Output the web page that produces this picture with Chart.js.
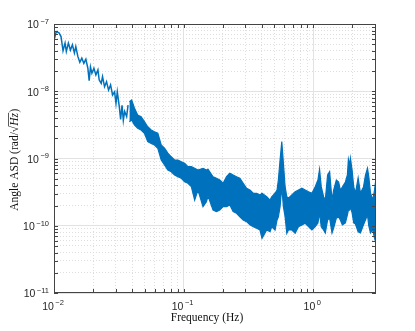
<!DOCTYPE html>
<html>
<head>
<meta charset="utf-8">
<script src="https://cdn.jsdelivr.net/npm/chart.js@4.4.0/dist/chart.umd.min.js"></script>
<style>
html, body { margin: 0; padding: 0; background: #fff; }
canvas { display: block; }
</style>
</head>
<body>
<canvas id="asd" width="415" height="331"></canvas>
<script>
// low-frequency part: the trace is still a single line here
const lowFreq = [0.0100, 0.01018, 0.01042, 0.01093, 0.01133, 0.01174, 0.01217, 0.01245, 0.01291, 0.01338,
                 0.01387, 0.01437, 0.01473, 0.01527, 0.01582, 0.01639, 0.01699, 0.01761, 0.01825, 0.01868,
                 0.01911, 0.01960, 0.02032, 0.02105, 0.02182, 0.02233, 0.02314, 0.02368, 0.02454, 0.02543,
                 0.02636, 0.02732, 0.02831, 0.02934, 0.03008, 0.03078, 0.03190, 0.03266, 0.03348, 0.03427,
                 0.03508, 0.03635, 0.03727];
const lowAsd  = [8.1e-8, 6.5e-8, 7.7e-8, 7.4e-8, 6.5e-8, 4.0e-8, 5.2e-8, 3.9e-8, 5.2e-8, 4.1e-8,
                 4.9e-8, 3.7e-8, 4.6e-8, 3.3e-8, 2.7e-8, 3.1e-8, 2.6e-8, 3.0e-8, 2.2e-8, 1.44e-8,
                 2.3e-8, 1.85e-8, 2.2e-8, 1.75e-8, 2.07e-8, 1.47e-8, 1.31e-8, 1.65e-8, 1.17e-8, 1.39e-8,
                 1.04e-8, 1.24e-8, 8.8e-9, 9.8e-9, 6.6e-9, 9.8e-9, 5.9e-9, 3.8e-9, 6.2e-9, 3.7e-9,
                 5.0e-9, 4.2e-9, 6.2e-9];

// above ~0.037 Hz the trace is a dense noise band: upper and lower envelope
const bandFreq = [0.03815, 0.03974, 0.04172, 0.04423, 0.04699, 0.04985, 0.05288, 0.05618, 0.05959, 0.06324,
                  0.06717, 0.07124, 0.07556, 0.08028, 0.08516, 0.09032, 0.09598, 0.1018, 0.1080, 0.1147,
                  0.1217, 0.1291, 0.1411, 0.1500, 0.1543, 0.1687, 0.1793, 0.1901, 0.2017, 0.2143,
                  0.2273, 0.2411, 0.2561, 0.2717, 0.2882, 0.3062, 0.3247, 0.3444, 0.3662, 0.3883,
                  0.4025, 0.4377, 0.4642, 0.4784, 0.5075, 0.5259, 0.5383, 0.5549, 0.5720, 0.5886,
                  0.6067, 0.6254, 0.6435, 0.6837, 0.7254, 0.7691, 0.8173, 0.8670, 0.9196, 0.9770,
                  1.036, 1.087, 1.119, 1.153, 1.202, 1.239, 1.291, 1.338, 1.396, 1.437,
                  1.508, 1.571, 1.619, 1.678, 1.771, 1.835, 1.868, 1.911, 1.936, 1.995,
                  2.053, 2.117, 2.221, 2.314, 2.441, 2.530, 2.622, 2.684, 2.766, 2.882,
                  2.971, 3.024, 3.05];
const bandHigh = [6.99e-9, 7.41e-9, 5.64e-9, 4.43e-9, 4.18e-9, 3.53e-9, 2.97e-9, 2.65e-9, 2.50e-9, 2.37e-9,
                  1.59e-9, 1.42e-9, 1.20e-9, 1.06e-9, 9.50e-10, 9.50e-10, 8.96e-10, 8.48e-10, 7.55e-10, 7.55e-10,
                  7.15e-10, 6.75e-10, 7.15e-10, 6.75e-10, 6.91e-10, 5.36e-10, 5.08e-10, 4.79e-10, 4.28e-10, 5.36e-10,
                  6.02e-10, 5.68e-10, 5.36e-10, 5.08e-10, 4.28e-10, 3.61e-10, 3.40e-10, 3.04e-10, 3.04e-10, 2.87e-10,
                  3.04e-10, 2.70e-10, 2.41e-10, 2.70e-10, 3.04e-10, 3.40e-10, 4.79e-10, 9.50e-10, 1.78e-9, 8.48e-10,
                  3.81e-10, 2.70e-10, 2.56e-10, 2.87e-10, 3.21e-10, 3.40e-10, 3.61e-10, 3.40e-10, 3.21e-10, 3.04e-10,
                  3.81e-10, 4.79e-10, 6.91e-10, 3.81e-10, 2.70e-10, 2.41e-10, 5.68e-10, 6.36e-10, 2.41e-10, 3.40e-10,
                  4.79e-10, 4.47e-10, 3.40e-10, 3.77e-10, 4.47e-10, 5.68e-10, 9.73e-10, 8.00e-10, 1.007e-9, 6.75e-10,
                  3.77e-10, 3.07e-10, 5.13e-10, 3.07e-10, 3.77e-10, 5.68e-10, 7.15e-10, 5.36e-10, 3.07e-10, 2.41e-10,
                  3.40e-10, 4.47e-10, 2.41e-10];
const bandLow  = [3.53e-9, 3.74e-9, 3.15e-9, 2.81e-9, 2.65e-9, 2.37e-9, 1.78e-9, 1.68e-9, 1.59e-9, 1.42e-9,
                  9.50e-10, 8.00e-10, 6.75e-10, 6.36e-10, 5.68e-10, 5.36e-10, 5.08e-10, 4.52e-10, 4.28e-10, 3.81e-10,
                  2.41e-10, 3.40e-10, 1.92e-10, 2.28e-10, 2.77e-10, 1.71e-10, 1.62e-10, 1.71e-10, 1.92e-10, 1.92e-10,
                  2.04e-10, 1.62e-10, 1.53e-10, 1.36e-10, 1.22e-10, 1.15e-10, 1.03e-10, 9.68e-11, 9.17e-11, 8.65e-11,
                  6.51e-11, 8.65e-11, 8.15e-11, 9.68e-11, 8.65e-11, 1.22e-10, 1.36e-10, 1.92e-10, 3.81e-10, 1.92e-10,
                  1.36e-10, 7.72e-11, 8.65e-11, 8.65e-11, 7.72e-11, 9.68e-11, 1.03e-10, 1.09e-10, 9.68e-11, 8.65e-11,
                  9.68e-11, 1.10e-10, 1.55e-10, 9.68e-11, 8.65e-11, 7.80e-11, 1.22e-10, 1.30e-10, 7.80e-11, 9.26e-11,
                  1.30e-10, 1.35e-10, 1.22e-10, 1.03e-10, 1.10e-10, 1.45e-10, 1.71e-10, 1.71e-10, 1.92e-10, 1.55e-10,
                  1.10e-10, 1.06e-10, 8.15e-11, 7.80e-11, 1.03e-10, 1.22e-10, 1.45e-10, 9.92e-11, 7.80e-11, 8.65e-11,
                  6.57e-11, 5.79e-11, 5.93e-11];

// decade labels (10^n)
const xTickExp = [-2, -1, 0];
const yTickExp = [-11, -10, -9, -8, -7];

const blue = "#0072BD";

function pts(xs, ys) {
    return xs.map((x, i) => ({ x: x, y: ys[i] }));
}

function isDecade(tick) {
    if (!tick) return false;
    let l = Math.log10(tick.value);
    return Math.abs(l - Math.round(l)) < 1e-6;
}

// 1..9 x 10^n ticks, chart.js adds 1.5 ticks on its own otherwise
function logTicks(min, max) {
    let out = [];
    for (let e = Math.floor(Math.log10(min)); e <= Math.ceil(Math.log10(max)); e++) {
        for (let m = 1; m <= 9; m++) {
            let v = m * Math.pow(10, e);
            if (v >= min * 0.999999 && v <= max * 1.000001) out.push({ value: v });
        }
    }
    return out;
}

function pow10(ctx, e, x, y, align) {
    // "10" with raised exponent, y = vertical middle of the "10"
    ctx.font = "10.5px 'Liberation Sans', Arial, sans-serif";
    let wb = ctx.measureText("10").width;
    ctx.font = "7.5px 'Liberation Sans', Arial, sans-serif";
    let we = ctx.measureText(String(e).replace("-", "\u2212")).width;
    let w = wb + 1.5 + we;
    let left = align === "right" ? x - w : x - w / 2;
    ctx.textAlign = "left";
    ctx.textBaseline = "alphabetic";
    ctx.font = "10.5px 'Liberation Sans', Arial, sans-serif";
    ctx.fillText("10", left, y + 3.8);
    ctx.font = "7.5px 'Liberation Sans', Arial, sans-serif";
    ctx.fillText(String(e).replace("-", "\u2212"), left + wb + 1.5, y - 0.6);
}

const axisDeco = {
    id: "axisDeco",
    afterDraw(chart) {
        const ctx = chart.ctx;
        const a = chart.chartArea;
        const xs = chart.scales.x;
        const ys = chart.scales.y;
        ctx.save();
        ctx.strokeStyle = "#444";
        ctx.lineWidth = 1;
        ctx.strokeRect(a.left + 0.5, a.top + 0.5, a.right - a.left - 1, a.bottom - a.top - 1);

        // inward ticks on all four sides
        ctx.beginPath();
        for (let t of xs.ticks) {
            let px = Math.round(xs.getPixelForValue(t.value)) + 0.5;
            ctx.moveTo(px, a.bottom); ctx.lineTo(px, a.bottom - 4);
            ctx.moveTo(px, a.top); ctx.lineTo(px, a.top + 4);
        }
        for (let t of ys.ticks) {
            let py = Math.round(ys.getPixelForValue(t.value)) + 0.5;
            ctx.moveTo(a.left, py); ctx.lineTo(a.left + 4, py);
            ctx.moveTo(a.right, py); ctx.lineTo(a.right - 4, py);
        }
        ctx.stroke();

        ctx.fillStyle = "#262626";
        for (let e of xTickExp) {
            pow10(ctx, e, xs.getPixelForValue(Math.pow(10, e)) - 1, 306, "center");
        }
        for (let e of yTickExp) {
            pow10(ctx, e, 49, ys.getPixelForValue(Math.pow(10, e)) + 0.5, "right");
        }

        // axis titles
        ctx.fillStyle = "#111";
        ctx.textBaseline = "middle";
        ctx.textAlign = "center";
        ctx.font = "11.5px 'Liberation Serif', 'Times New Roman', serif";
        ctx.fillText("Frequency (Hz)", 207, 318);

        ctx.translate(15, 160);
        ctx.rotate(-Math.PI / 2);
        const f = "11.5px 'Liberation Serif', 'Times New Roman', serif";
        const fi = "italic 11.5px 'Liberation Serif', 'Times New Roman', serif";
        ctx.font = f;
        let p1 = "Angle ASD (rad/", p3 = ")";
        let w1 = ctx.measureText(p1).width;
        let ws = ctx.measureText("\u221A").width;
        let w3 = ctx.measureText(p3).width;
        ctx.font = fi;
        let w2 = ctx.measureText("Hz").width;
        let x0 = -(w1 + ws + w2 + w3) / 2;
        ctx.textAlign = "left";
        ctx.font = f;
        ctx.fillText(p1, x0, 0);
        ctx.fillText("\u221A", x0 + w1, 0);
        ctx.font = fi;
        ctx.fillText("Hz", x0 + w1 + ws, 0);
        ctx.font = f;
        ctx.fillText(p3, x0 + w1 + ws + w2 + 0.5, 0);
        ctx.strokeStyle = "#111";
        ctx.lineWidth = 0.7;
        ctx.beginPath();
        ctx.moveTo(x0 + w1 + ws - 0.5, -6.5);
        ctx.lineTo(x0 + w1 + ws + w2 + 0.3, -6.5);
        ctx.stroke();
        ctx.restore();
    }
};

function gridColor(c) {
    return isDecade(c.tick) ? "#e2e2e2" : "#dedede";
}
function gridDash(c) {
    return (c.tick && !isDecade(c.tick)) ? [1, 2] : [];
}

const ctx = document.getElementById("asd").getContext("2d");
const myChart = new Chart(ctx, {
    type: "line",
    data: {
        datasets: [
            {
                data: pts(lowFreq, lowAsd),
                borderColor: blue,
                borderWidth: 1.5,
                pointRadius: 0,
                fill: false
            },
            {
                data: pts(bandFreq, bandHigh),
                borderColor: blue,
                backgroundColor: blue,
                borderWidth: 1.2,
                pointRadius: 0,
                fill: "+1"
            },
            {
                data: pts(bandFreq, bandLow),
                borderColor: blue,
                borderWidth: 1.2,
                pointRadius: 0,
                fill: false
            }
        ]
    },
    options: {
        responsive: false,
        animation: false,
        layout: { padding: { left: 54, right: 39, top: 24, bottom: 38 } },
        plugins: {
            legend: { display: false },
            tooltip: { enabled: false }
        },
        scales: {
            x: {
                type: "logarithmic",
                min: 0.01,
                max: 3.05,
                afterBuildTicks: s => { s.ticks = logTicks(0.01, 3.05); },
                ticks: { display: false },
                grid: { drawTicks: false, color: gridColor, lineWidth: 1 },
                border: { display: false, dash: gridDash }
            },
            y: {
                type: "logarithmic",
                min: 1e-11,
                max: 1e-7,
                afterBuildTicks: s => { s.ticks = logTicks(1e-11, 1e-7); },
                ticks: { display: false },
                grid: { drawTicks: false, color: gridColor, lineWidth: 1 },
                border: { display: false, dash: gridDash }
            }
        }
    },
    plugins: [axisDeco]
});
</script>
</body>
</html>
